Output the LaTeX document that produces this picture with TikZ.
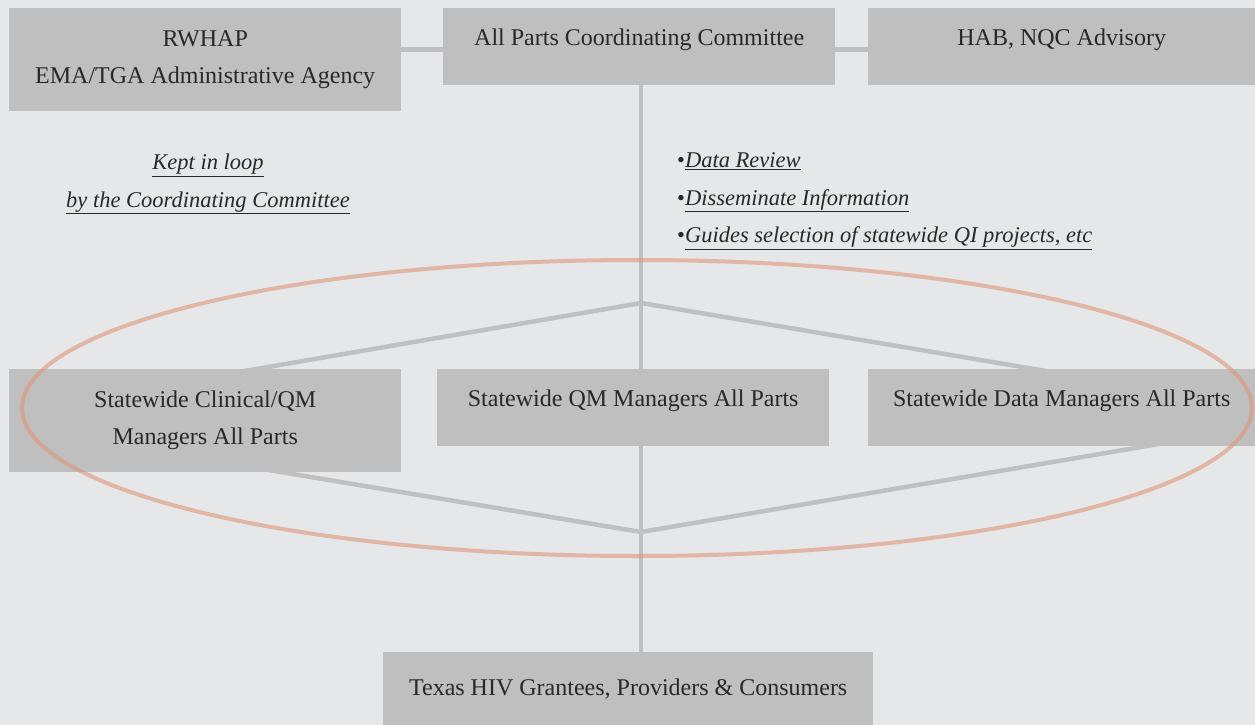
\documentclass[tikz,border=0pt]{standalone}
\usepackage{fontspec}
\setmainfont{Liberation Serif}
\usetikzlibrary{backgrounds}
\definecolor{paper}{RGB}{230,231,232}
\definecolor{panelgray}{RGB}{191,191,191}
\definecolor{linkgray}{RGB}{192,192,192}
\definecolor{inkgray}{RGB}{40,40,40}
\definecolor{ringorange}{RGB}{222,150,120}
\tikzset{
  panel/.style={fill=panelgray, text=inkgray, anchor=north west, align=center,
    inner sep=0pt, font=\fontsize{24}{37}\selectfont},
  oneline/.style={text depth=19pt},
  link/.style={draw=linkgray, line width=4.5pt},
  note/.style={text=inkgray, inner sep=0pt, font=\fontsize{22.5}{37.5}\selectfont\itshape},
  ring/.style={draw=ringorange, draw opacity=0.6, line width=4pt}
}

\begin{document}
\begin{tikzpicture}[x=1pt, y=-1pt]
        \useasboundingbox (0,0) rectangle (1255,725);
        % top row
        \node[panel, minimum width=392pt, minimum height=103pt] (rwhap) at (9,8) {RWHAP\\EMA/TGA Administrative Agency};
        \node[panel, oneline, minimum width=392pt, minimum height=77pt] (allparts) at (443,8) {All Parts Coordinating Committee};
        \node[panel, oneline, minimum width=387pt, minimum height=77pt] (hab) at (868,8) {HAB, NQC Advisory};
        % middle row
        \node[panel, minimum width=392pt, minimum height=103pt] (clinical) at (9,369) {Statewide Clinical/QM\\Managers All Parts};
        \node[panel, oneline, minimum width=392pt, minimum height=77pt] (qm) at (437,369) {Statewide QM Managers All Parts};
        \node[panel, oneline, minimum width=387pt, minimum height=77pt] (datamgr) at (868,369) {Statewide Data Managers All Parts};
        % bottom
        \node[panel, minimum width=490pt, minimum height=73pt] (texas) at (383,652) {Texas HIV Grantees, Providers \& Consumers};
        % notes
        \node[note, align=center] (loopnote) at (208,184) {\underline{Kept in loop}\\\underline{by the Coordinating Committee}};
        \node[note, align=left, anchor=west] (tasks) at (677,201) {{\upshape\textbullet}\underline{Data Review}\\{\upshape\textbullet}\underline{Disseminate Information}\\{\upshape\textbullet}\underline{Guides selection of statewide QI projects, etc}};
        \coordinate (topfork) at (641,303);
        \coordinate (lowfork) at (641,532);
        \begin{scope}[on background layer]
          \fill[paper] (0,0) rectangle (1255,725);
          \draw[link] ([yshift=-3pt]allparts.west) -- ([yshift=-3pt]allparts.west -| rwhap.east);
          \draw[link] ([yshift=-3pt]allparts.east) -- ([yshift=-3pt]allparts.east -| hab.west);
          \draw[link] ([xshift=2pt]allparts.south) -- ([xshift=2pt]allparts.south |- texas.north);
          \draw[link] (topfork) -- ([xshift=224pt, yshift=-4pt]clinical.north west);
          \draw[link] (topfork) -- ([xshift=190pt, yshift=-4pt]datamgr.north west);
          \draw[link] ([xshift=250pt, yshift=4pt]clinical.south west) -- (lowfork);
          \draw[link] ([xshift=300pt, yshift=4pt]datamgr.south west) -- (lowfork);
        \end{scope}
        \draw[ring] (637,408) ellipse [x radius=615pt, y radius=148pt];
      \end{tikzpicture}
\end{document}
